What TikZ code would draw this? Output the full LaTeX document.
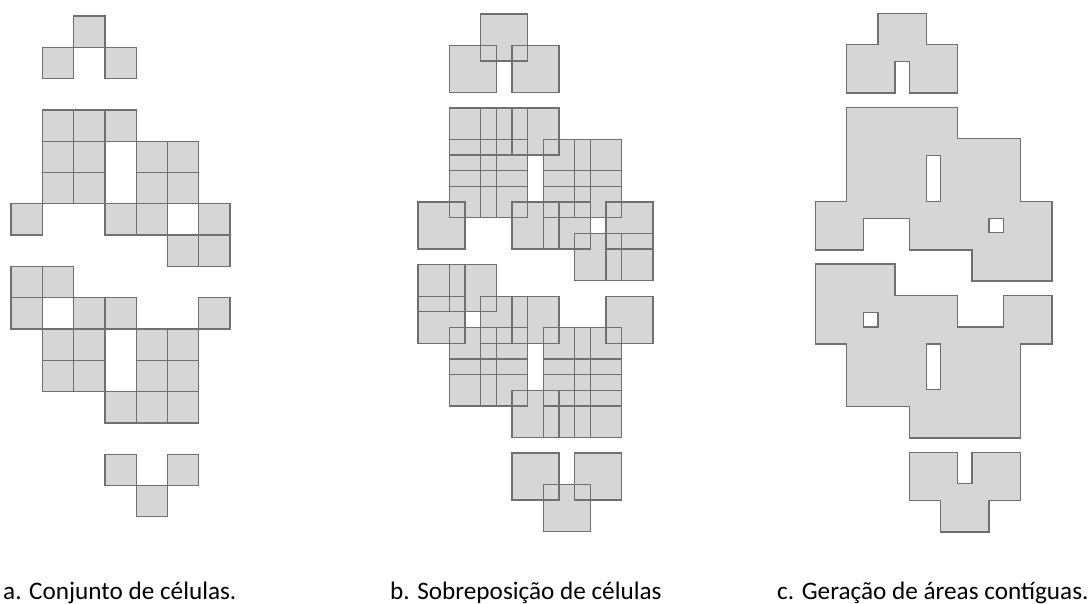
\documentclass[tikz,border=0pt]{standalone}
\usepackage{fontspec}
\setmainfont{Carlito}
\usepackage{tikz}

% cells of the set, as column/row
\newcommand{\celllist}{2/0, 1/1, 3/1, 1/3, 2/3, 3/3, 1/4, 2/4, 4/4, 5/4,
  1/5, 2/5, 4/5, 5/5, 0/6, 3/6, 4/6, 6/6, 5/7, 6/7, 0/8, 1/8, 0/9, 2/9,
  3/9, 6/9, 1/10, 2/10, 4/10, 5/10, 1/11, 2/11, 4/11, 5/11, 3/12, 4/12,
  5/12, 3/14, 5/14, 4/15}

\definecolor{cellgray}{RGB}{214,214,214}
\definecolor{edgegray}{RGB}{112,112,112}

\begin{document}
\begin{tikzpicture}[
  x=1pt,
  y=-1pt,
  font=\fontsize{25.2}{30}\selectfont,
  cell/.style={fill=cellgray, draw=edgegray, line width=1.3pt},
  cellfill/.style={fill=cellgray},
  celledge/.style={draw=edgegray, line width=1.3pt},
  areaedge/.style={draw=edgegray, line width=2.8pt},
  caption/.style={anchor=base west, inner sep=0pt, text=black}
]
\useasboundingbox (0,0) rectangle (1092,604);

% a. cells
\begin{scope}[shift={(11,16)}, x=31.3pt, y=-31.3pt]
  \foreach \c/\r in \celllist
    \draw[cell] (\c,\r) rectangle ++(1,1);
\end{scope}

% b. enlarged cells, all edges kept
\begin{scope}[shift={(418,14)}, x=31.35pt, y=-31.35pt]
  \foreach \c/\r in \celllist
    \fill[cellfill] (\c,\r) rectangle ++(1.5,1.5);
  \foreach \c/\r in \celllist
    \draw[celledge] (\c,\r) rectangle ++(1.5,1.5);
\end{scope}

% c. union: thick edges first, fill covers the inner half
\begin{scope}[shift={(816,14)}, x=31.35pt, y=-31.35pt]
  \foreach \c/\r in \celllist
    \draw[areaedge] (\c,\r) rectangle ++(1.5,1.5);
  \foreach \c/\r in \celllist
    \fill[cellfill] (\c,\r) rectangle ++(1.5,1.5);
\end{scope}

\node[caption] (capa) at (3,599) {a. Conjunto de células.};
\node[caption] (capb) at (390,599) {b. Sobreposição de células};
\node[caption] (capc) at (777,599) {c. Geração de áreas contíguas.};

\end{tikzpicture}
\end{document}
